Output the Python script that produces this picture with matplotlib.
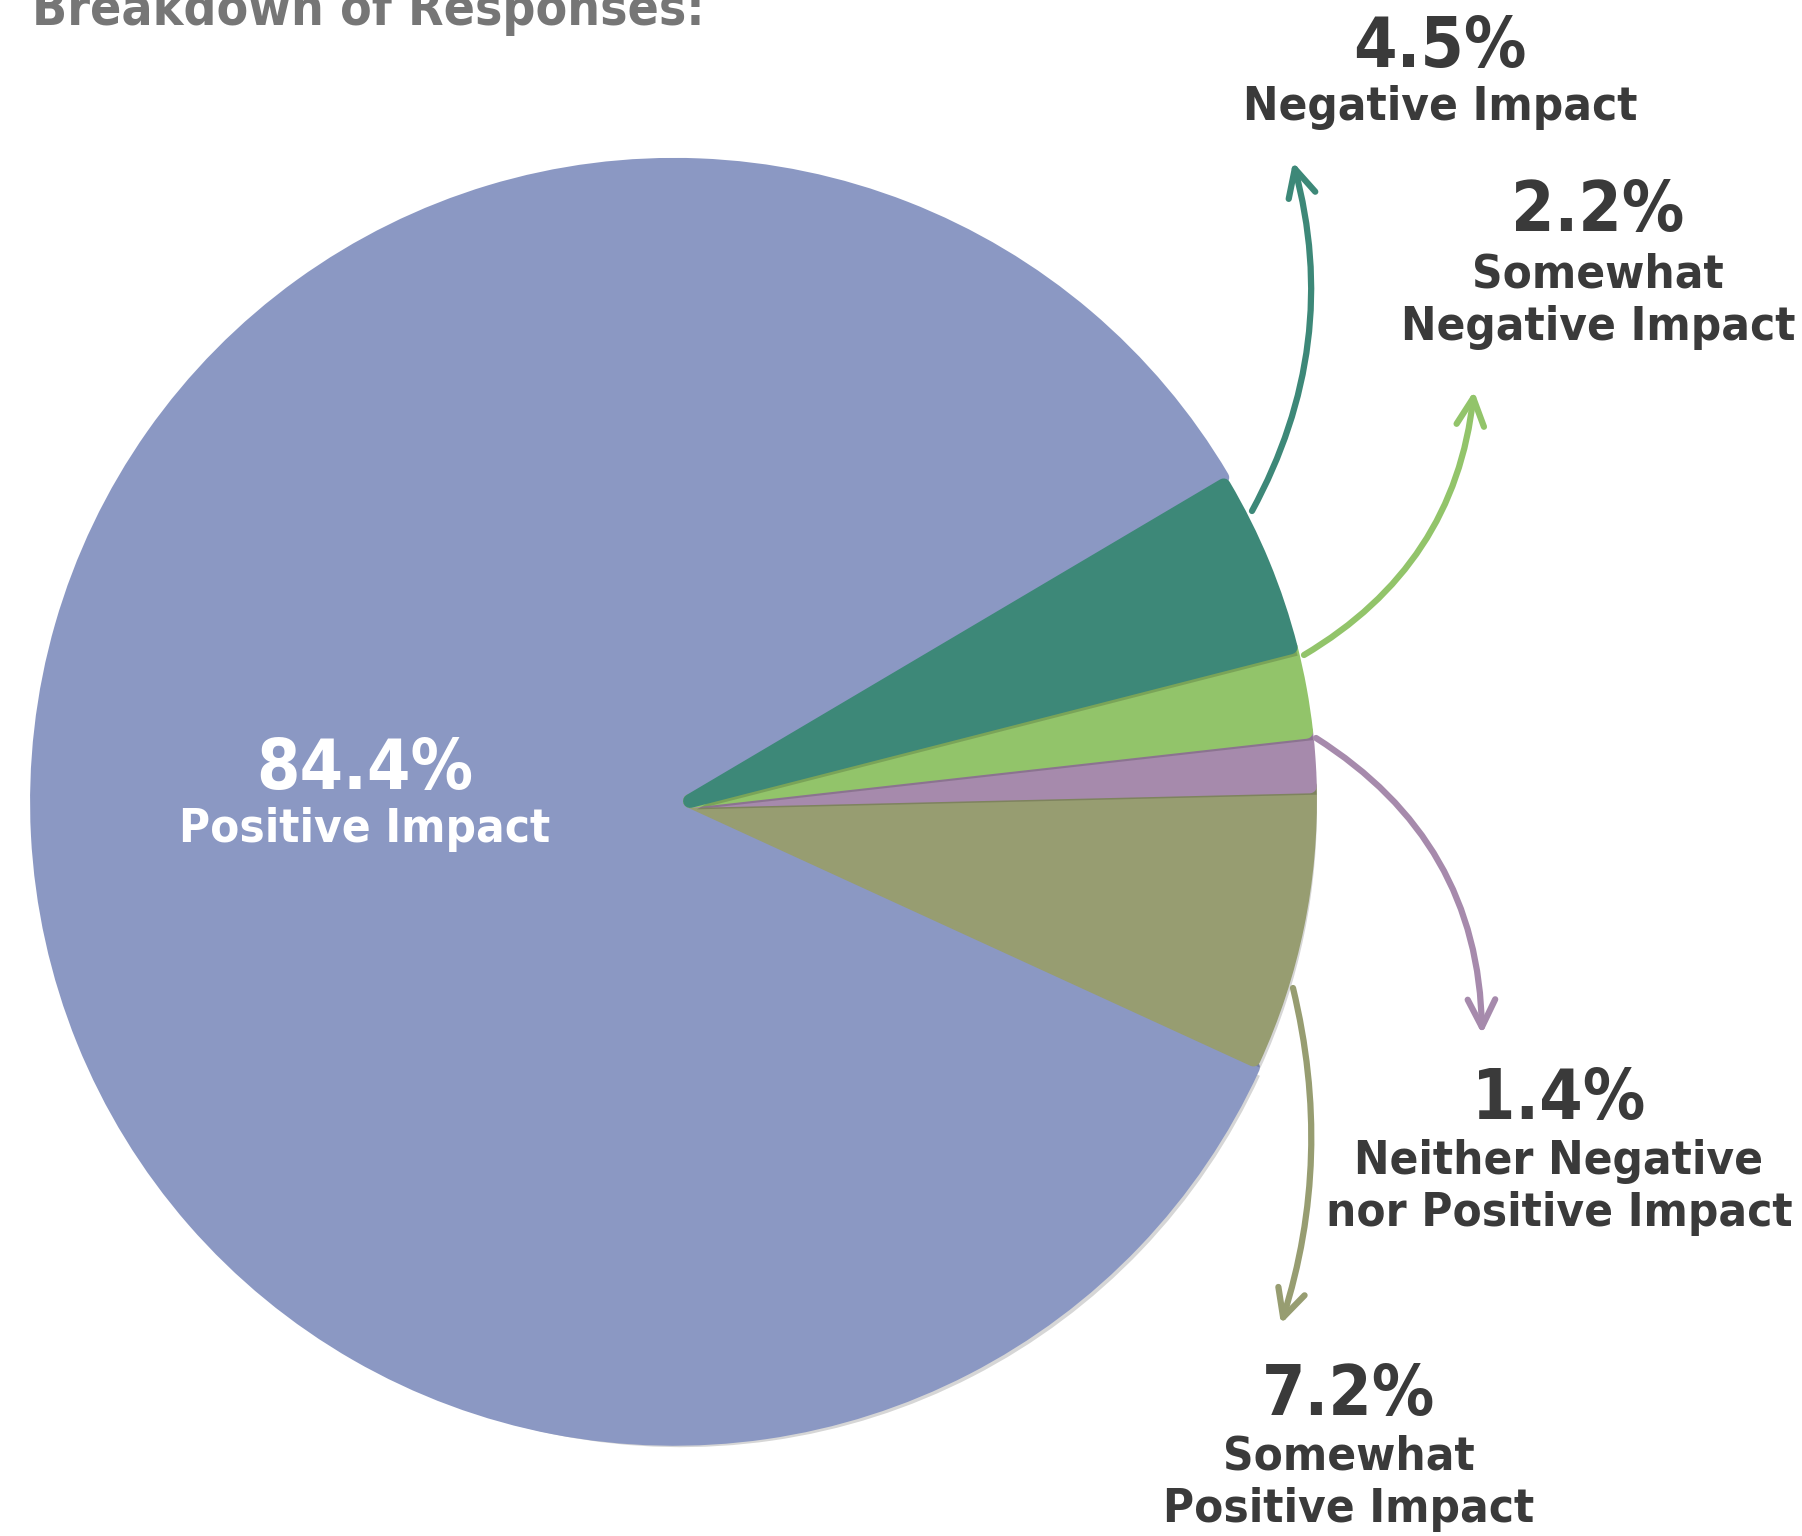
import matplotlib
matplotlib.use("Agg")
import matplotlib.pyplot as plt
import matplotlib.patheffects as pe

# data
categories = ["Positive Impact", "Somewhat\nPositive Impact",
              "Neither Negative\nnor Positive Impact",
              "Somewhat\nNegative Impact", "Negative Impact"]
shares = [84.4, 7.2, 1.4, 2.2, 4.5]
colors = ["#8B98C3", "#979D71", "#A68AAC", "#92C46A", "#3D8878"]
title = "Breakdown of Responses:"

W, H = 1802, 1536
FONT = dict(family=["DejaVu Sans"], stretch="condensed", weight="bold")
DARK = "#3a3a3a"


def p(x, y):
    # top-down pixel position -> data coords
    return (x, H - y)


fig = plt.figure(figsize=(W / 100, H / 100), dpi=100)
ax = fig.add_axes([0, 0, 1, 1])

cx, cy = p(690, 801)
# explode is in data units here (pixels), it pushes the big slice left
wedges, _ = ax.pie(shares, colors=colors, startangle=30.6, counterclock=True,
                   radius=620, center=(cx, cy),
                   explode=[16, 0, 0, 0, 0])
wedges[0].set_radius(637)

shadow = [pe.SimplePatchShadow(offset=(5, -6), shadow_rgbFace="k", alpha=0.16),
          pe.Normal()]
for w, c in zip(wedges, colors):
    w.set_edgecolor(c)
    w.set_linewidth(10)
    w.set_joinstyle("round")
    w.set_path_effects(shadow)

ax.set_xlim(0, W)
ax.set_ylim(0, H)
ax.set_aspect("equal")
ax.axis("off")

# title (cut off at top like the original)
ax.text(*p(32, 25), title, fontsize=37, color="#767676",
        ha="left", va="baseline", **FONT)

# centre label
ax.text(*p(365, 770), f"{shares[0]}%", fontsize=50, color="white",
        ha="center", va="center", **FONT)
ax.text(*p(365, 830), categories[0], fontsize=34, color="white",
        ha="center", va="center", **FONT)

# outside labels: (index, pct position, text position)
outside = [
    (4, (1440, 48), (1440, 108)),
    (3, (1598, 212), (1598, 301)),
    (2, (1559, 1099), (1559, 1187)),
    (1, (1349, 1396), (1349, 1483)),
]
for i, pp, tp in outside:
    ax.text(*p(*pp), f"{shares[i]}%", fontsize=50, color=DARK,
            ha="center", va="center", **FONT)
    ax.text(*p(*tp), categories[i], fontsize=34, color=DARK,
            ha="center", va="center", linespacing=1.2, **FONT)

# curved arrows from wedges to labels
arrows = [
    (4, (1252, 511), (1293, 162), 0.2),
    (3, (1304, 655), (1474, 391), 0.25),
    (2, (1316, 738), (1482, 1034), -0.27),
    (1, (1293, 988), (1281, 1324), -0.14),
]
for i, start, end, rad in arrows:
    ax.annotate("", xy=p(*end), xytext=p(*start),
                arrowprops=dict(arrowstyle="->,head_length=0.9,head_width=0.45",
                                connectionstyle=f"arc3,rad={rad}",
                                color=colors[i], lw=4.5, mutation_scale=22,
                                shrinkA=0, shrinkB=0))

fig.savefig("out.png", dpi=100, facecolor="white")
